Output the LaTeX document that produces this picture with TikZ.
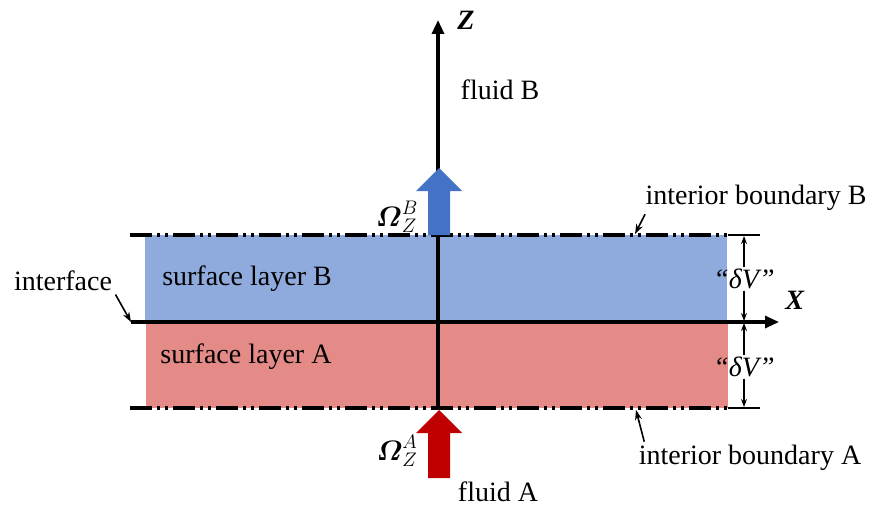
\documentclass[tikz,border=0pt]{standalone}
\usepackage{fix-cm}
\usepackage{amsmath,amssymb}
\usepackage{fontspec}
\setmainfont{Liberation Serif}
\usetikzlibrary{arrows.meta}
\definecolor{layerB}{HTML}{8FAADC}
\definecolor{layerA}{HTML}{E48A87}
\definecolor{fluxB}{HTML}{4472C4}
\definecolor{fluxA}{HTML}{C00000}

\begin{document}
\begin{tikzpicture}[x=1pt,y=-1pt,
    every node/.style={font=\fontsize{28}{32}\selectfont},
    axis/.style={line width=3.2pt,-{Triangle[length=14pt,width=12pt]}},
    bound/.style={line width=3.2pt,dash pattern=on 22pt off 5pt on 3pt off 5pt on 3pt off 5pt},
    extline/.style={line width=1.2pt},
    leader/.style={line width=1.6pt,-{Stealth[length=10pt,width=7pt]}},
    dimtip/.style={line width=1.1pt,-{Stealth[length=8pt,width=6pt]}},
    dvlabel/.style={inner sep=1.5pt}]
    \useasboundingbox (0,0) rectangle (880,508);
    % the two surface layers
    \fill[layerB] (145,235) rectangle (727,322);
    \fill[layerA] (146,322) rectangle (728,408);
    \coordinate (bBl) at (130,235);
    \coordinate (bBr) at (728,235);
    \coordinate (eBr) at (760,235);
    \coordinate (bAl) at (130,408);
    \coordinate (bAr) at (728,408);
    \coordinate (eAr) at (760,408);
    \coordinate (xl) at (131,322);
    \coordinate (xr) at (779,322);
    \coordinate (zb) at (438,408);
    \coordinate (zt) at (438,20);
    % interior boundaries
    \draw[bound] (bBl) -- (bBr);
    \draw[bound] (bAl) -- (bAr);
    \draw[extline] (bBr) -- (eBr);
    \draw[extline] (bAr) -- (eAr);
    % axes
    \draw[axis] (zb) -- (zt);
    \draw[axis] (xl) -- (xr);
    \node (lblZ) at (466,20) {\textbf{\textit{Z}}};
    \node (lblX) at (795,300) {\textbf{\textit{X}}};
    % fluxes
    \fill[fluxB] (428,235) -- (428,191) -- (416,191) -- (439,168) -- (462,191)
        -- (450,191) -- (450,235) -- cycle;
    \fill[fluxA] (428,478) -- (428,433) -- (416,433) -- (439,410) -- (462,433)
        -- (450,433) -- (450,478) -- cycle;
    \node (omegaB) at (397,217) {$\boldsymbol{\varOmega}_Z^B$};
    \node (omegaA) at (397,451) {$\boldsymbol{\varOmega}_Z^A$};
    \node (fluidB) at (500,90) {fluid B};
    \node (fluidA) at (498,492) {fluid A};
    % labels
    \node (txtB) at (247,279) {surface layer B};
    \node (txtA) at (246,357) {surface layer A};
    \node (iface) at (63,281) {interface};
    \node (intB) at (756,198) {interior boundary B};
    \node (intA) at (750,458) {interior boundary A};
    \coordinate (tipB) at (635,234);
    \coordinate (tipA) at (636,410);
    \draw[leader] (iface.south east) -- (xl);
    \draw[leader] ([xshift=3pt]intB.south west) -- (tipB);
    \draw[leader] ([xshift=9pt]intA.north west) -- (tipA);
    % thickness marks
    \node[dvlabel] (dvB) at (744,279) {\textit{“δV”}};
    \node[dvlabel] (dvA) at (744,367) {\textit{“δV”}};
    \coordinate (dBt) at (744,236);
    \coordinate (dBb) at (744,321);
    \coordinate (dAt) at (744,323);
    \coordinate (dAb) at (744,407);
    \draw[dimtip] (dvB) -- (dBt);
    \draw[dimtip] (dvB) -- (dBb);
    \draw[dimtip] (dvA) -- (dAt);
    \draw[dimtip] (dvA) -- (dAb);
\end{tikzpicture}
\end{document}
